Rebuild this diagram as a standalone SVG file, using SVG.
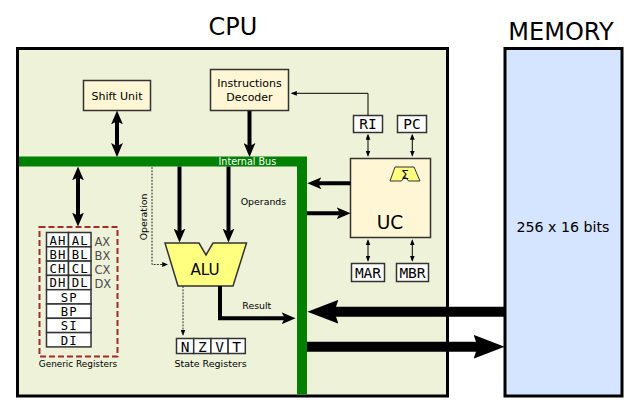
<svg xmlns="http://www.w3.org/2000/svg" width="640" height="415" viewBox="0 0 640 415">
<style>
text{font-family:"DejaVu Sans","Liberation Sans",sans-serif;fill:#000}
.mono{font-family:"DejaVu Sans Mono","Liberation Mono",monospace;font-size:14.5px}
.rmono{font-family:"DejaVu Sans Mono","Liberation Mono",monospace;font-size:12.3px;letter-spacing:1px}
.box{fill:#fff6d5;stroke:#333;stroke-width:1.5}
.reg{fill:#fff;stroke:#333;stroke-width:1.5}
.thick{fill:none;stroke:#000;stroke-width:4}
.thin{fill:none;stroke:#000;stroke-width:1}
.dot{fill:none;stroke:#333;stroke-width:1;stroke-dasharray:2,1.2}
.mem{fill:none;stroke:#000;stroke-width:10}
.small{font-size:9.4px}
.gray{fill:#4d4d4d;font-size:11.5px}
</style>
<defs>
<marker id="ah" markerUnits="userSpaceOnUse" markerWidth="14" markerHeight="12" viewBox="0 0 13 11" refX="5" refY="5.5" orient="auto-start-reverse"><path d="M0,0 L13,5.5 L0,11 L3,5.5 z" fill="#000"/></marker>
<marker id="am" markerUnits="userSpaceOnUse" markerWidth="31" markerHeight="24" viewBox="0 0 30 23" refX="12" refY="11.5" orient="auto-start-reverse"><path d="M0,0 L30,11.5 L0,23 L4,11.5 z" fill="#000"/></marker>
<marker id="as" markerUnits="userSpaceOnUse" markerWidth="6" markerHeight="5" viewBox="0 0 5 4" refX="4" refY="2" orient="auto-start-reverse"><path d="M0,0 L5,2 L0,4 z" fill="#000"/></marker>
</defs>

<text x="233" y="35" font-size="24" text-anchor="middle">CPU</text>
<text x="561" y="40" font-size="24" text-anchor="middle">MEMORY</text>

<g id="cpu"><rect x="17.5" y="48.5" width="430" height="347.5" fill="#edf2d9" stroke="#000" stroke-width="3"/></g>
<g id="memory"><rect x="505" y="48.5" width="117" height="347.5" fill="#d5e5ff" stroke="#000" stroke-width="3"/>
<text x="563" y="231.7" font-size="14.2" text-anchor="middle">256 x 16 bits</text></g>

<g id="internal-bus"><path d="M19,161.5 H302 V394.5" fill="none" stroke="#008000" stroke-width="10"/>
<text x="218.5" y="165" font-size="9.6" style="fill:#fff">Internal Bus</text></g>

<g id="shift-unit"><rect class="box" x="83.5" y="80.5" width="67" height="30"/>
<text x="117" y="100" font-size="11" text-anchor="middle">Shift Unit</text></g>

<g id="instructions-decoder"><rect class="box" x="210.5" y="69.5" width="78" height="41"/>
<text x="249.5" y="87.3" font-size="11" text-anchor="middle">Instructions</text>
<text x="249.5" y="101" font-size="11" text-anchor="middle">Decoder</text></g>

<g id="ri"><rect class="reg" x="353.5" y="115.5" width="29" height="17"/><text class="mono" x="368" y="129" text-anchor="middle">RI</text></g>
<g id="pc"><rect class="reg" x="397.5" y="115.5" width="29" height="17"/><text class="mono" x="412" y="129" text-anchor="middle">PC</text></g>

<g id="uc"><rect class="box" x="350.5" y="158.5" width="80" height="79"/>
<path d="M395,167 H414 L420,181 H408.5 L405,176.5 L401.5,181 H390 Z" fill="#ffff80" stroke="#333" stroke-width="1"/>
<text x="405" y="178.5" font-size="12" text-anchor="middle">Σ</text>
<text x="390" y="229" font-size="18.6" text-anchor="middle">UC</text></g>

<g id="mar"><rect class="reg" x="351.5" y="263.5" width="33" height="18"/><text class="mono" x="368" y="278" text-anchor="middle">MAR</text></g>
<g id="mbr"><rect class="reg" x="396.5" y="263.5" width="32" height="18"/><text class="mono" x="412.5" y="278" text-anchor="middle">MBR</text></g>

<g id="alu"><path d="M165,243 H199 L206,255 L213,243 H246.5 L233,286 H178 Z" fill="#ffff80" stroke="#333" stroke-width="1.5"/>
<text x="205" y="275" font-size="15.2" text-anchor="middle">ALU</text></g>

<g id="state-registers">
<rect class="reg" x="176.5" y="338.5" width="17.2" height="15"/>
<rect class="reg" x="193.7" y="338.5" width="17.2" height="15"/>
<rect class="reg" x="210.9" y="338.5" width="17.2" height="15"/>
<rect class="reg" x="228.1" y="338.5" width="17.2" height="15"/>
<text class="mono" x="185.1" y="351.5" text-anchor="middle">N</text>
<text class="mono" x="202.3" y="351.5" text-anchor="middle">Z</text>
<text class="mono" x="219.5" y="351.5" text-anchor="middle">V</text>
<text class="mono" x="236.7" y="351.5" text-anchor="middle">T</text>
<text x="210.5" y="366.7" font-size="9.5" text-anchor="middle">State Registers</text></g>

<g id="generic-registers">
<rect x="39.5" y="227" width="78" height="129.5" fill="none" stroke="#a02c2c" stroke-width="2" stroke-dasharray="6,3"/>
<rect class="reg" x="46.5" y="232.5" width="22" height="14.3"/><rect class="reg" x="68.5" y="232.5" width="22.5" height="14.3"/>
<rect class="reg" x="46.5" y="246.8" width="22" height="14.3"/><rect class="reg" x="68.5" y="246.8" width="22.5" height="14.3"/>
<rect class="reg" x="46.5" y="261.1" width="22" height="14.3"/><rect class="reg" x="68.5" y="261.1" width="22.5" height="14.3"/>
<rect class="reg" x="46.5" y="275.4" width="22" height="14.3"/><rect class="reg" x="68.5" y="275.4" width="22.5" height="14.3"/>
<rect class="reg" x="46.5" y="289.7" width="44.5" height="14.3"/>
<rect class="reg" x="46.5" y="304" width="44.5" height="14.3"/>
<rect class="reg" x="46.5" y="318.3" width="44.5" height="14.3"/>
<rect class="reg" x="46.5" y="332.6" width="44.5" height="14.3"/>
<g text-anchor="middle">
<text class="rmono" x="58" y="244.5">AH</text><text class="rmono" x="80.2" y="244.5">AL</text>
<text class="rmono" x="58" y="258.8">BH</text><text class="rmono" x="80.2" y="258.8">BL</text>
<text class="rmono" x="58" y="273.1">CH</text><text class="rmono" x="80.2" y="273.1">CL</text>
<text class="rmono" x="58" y="287.4">DH</text><text class="rmono" x="80.2" y="287.4">DL</text>
<text class="rmono" x="69.2" y="301.7">SP</text>
<text class="rmono" x="69.2" y="316">BP</text>
<text class="rmono" x="69.2" y="330.3">SI</text>
<text class="rmono" x="69.2" y="344.6">DI</text>
</g>
<text class="gray" x="94.5" y="245.5">AX</text>
<text class="gray" x="94.5" y="259.8">BX</text>
<text class="gray" x="94.5" y="274.1">CX</text>
<text class="gray" x="94.5" y="288.4">DX</text>
<text x="78" y="367.3" font-size="8.9" text-anchor="middle">Generic Registers</text></g>

<g id="connectors">
<path class="thick" d="M117,119 V148.5" marker-start="url(#ah)" marker-end="url(#ah)"/>
<path class="thick" d="M249.5,110.7 V148.5" marker-end="url(#ah)"/>
<path class="thick" d="M78,175 V218" marker-start="url(#ah)" marker-end="url(#ah)"/>
<path class="thick" d="M179.5,166.5 V234" marker-end="url(#ah)"/>
<path class="thick" d="M228.5,166.5 V234" marker-end="url(#ah)"/>
<path class="thick" d="M220,286 V318.3 H287" marker-end="url(#ah)"/>
<path class="thick" d="M350.5,183.3 H316" marker-end="url(#ah)"/>
<path class="thick" d="M307,213.3 H342" marker-end="url(#ah)"/>
<path class="dot" d="M152,167 V264.5 H167" marker-end="url(#as)"/>
<path class="dot" d="M183,286 V334.5" marker-end="url(#as)"/>
<path class="thin" d="M368,115.5 V93.3 H292" marker-end="url(#as)"/>
<path class="thin" d="M368,135 V155.5" marker-start="url(#as)" marker-end="url(#as)"/>
<path class="thin" d="M412.3,135 V155.5" marker-start="url(#as)" marker-end="url(#as)"/>
<path class="thin" d="M368,240.5 V260.5" marker-start="url(#as)" marker-end="url(#as)"/>
<path class="thin" d="M412.3,240.5 V260.5" marker-start="url(#as)" marker-end="url(#as)"/>
<path class="mem" d="M504,311.7 H326" marker-end="url(#am)"/>
<path class="mem" d="M307,346.7 H486" marker-end="url(#am)"/>
</g>

<g id="labels">
<text x="240.7" y="205" class="small">Operands</text>
<text x="242.3" y="309" class="small">Result</text>
<text transform="translate(147,217) rotate(-90)" text-anchor="middle" class="small">Operation</text>
</g>
</svg>
